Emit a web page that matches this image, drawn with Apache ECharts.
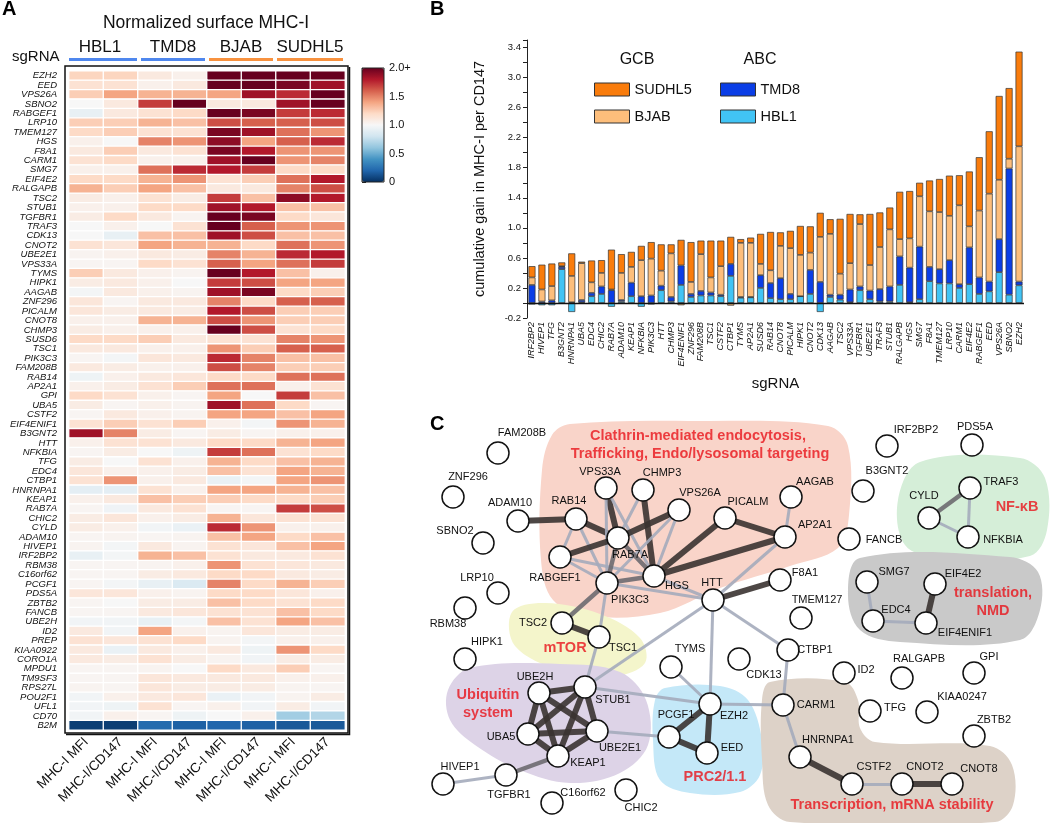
<!DOCTYPE html>
<html>
<head>
<meta charset="utf-8">
<script src="https://cdn.jsdelivr.net/npm/echarts@6/dist/echarts.min.js"></script>
<style>
  html, body { margin: 0; padding: 0; background: #fff; }
  #chart { width: 1050px; height: 823px; }
</style>
</head>
<body>
<div id="chart"></div>
<script>
  const FONT = '"Liberation Sans", Arial, sans-serif';

  // ---- panel A: normalized surface MHC-I heatmap ----
  const heatColumns = ['MHC-I MFI', 'MHC-I/CD147', 'MHC-I MFI', 'MHC-I/CD147',
    'MHC-I MFI', 'MHC-I/CD147', 'MHC-I MFI', 'MHC-I/CD147'];
  const heatGenes = ['EZH2', 'EED', 'VPS26A', 'SBNO2', 'RABGEF1', 'LRP10', 'TMEM127', 'HGS', 'F8A1',
    'CARM1', 'SMG7', 'EIF4E2', 'RALGAPB', 'TSC2', 'STUB1', 'TGFBR1', 'TRAF3', 'CDK13', 'CNOT2',
    'UBE2E1', 'VPS33A', 'TYMS', 'HIPK1', 'AAGAB', 'ZNF296', 'PICALM', 'CNOT8', 'CHMP3', 'SUSD6',
    'TSC1', 'PIK3C3', 'FAM208B', 'RAB14', 'AP2A1', 'GPI', 'UBA5', 'CSTF2', 'EIF4ENIF1', 'B3GNT2',
    'HTT', 'NFKBIA', 'TFG', 'EDC4', 'CTBP1', 'HNRNPA1', 'KEAP1', 'RAB7A', 'CHIC2', 'CYLD', 'ADAM10',
    'HIVEP1', 'IRF2BP2', 'RBM38', 'C16orf62', 'PCGF1', 'PDS5A', 'ZBTB2', 'FANCB', 'UBE2H', 'ID2',
    'PREP', 'KIAA0922', 'CORO1A', 'MPDU1', 'TM9SF3', 'RPS27L', 'POU2F1', 'UFL1', 'CD70', 'B2M'];
  // one row per gene: HBL1 MFI, HBL1 ratio, TMD8 MFI, TMD8 ratio, BJAB MFI, BJAB ratio, SUDHL5 MFI, SUDHL5 ratio
  const heatValues = [
    [1.22, 1.22, 1.10, 1.05, 2.0, 2.0, 2.0, 2.0],
    [1.15, 1.15, 1.05, 1.10, 2.0, 2.0, 1.95, 1.85],
    [1.25, 1.40, 1.35, 1.35, 1.40, 1.85, 1.75, 2.0],
    [1.00, 1.10, 1.70, 2.0, 1.10, 1.10, 1.85, 2.0],
    [0.92, 1.10, 1.15, 1.20, 2.0, 1.95, 1.70, 1.75],
    [1.25, 1.25, 1.35, 1.30, 1.65, 1.60, 1.60, 1.65],
    [1.20, 1.25, 1.15, 1.15, 1.95, 1.85, 1.55, 1.45],
    [1.05, 1.00, 1.50, 1.45, 1.90, 1.40, 1.60, 1.75],
    [1.10, 1.25, 1.10, 1.15, 1.95, 1.80, 1.45, 1.45],
    [1.15, 1.20, 1.05, 1.05, 1.85, 2.0, 1.45, 1.50],
    [1.05, 1.05, 1.55, 1.75, 1.80, 1.70, 1.20, 1.20],
    [1.20, 1.20, 1.35, 1.45, 1.15, 1.25, 1.55, 1.80],
    [1.35, 1.25, 1.40, 1.30, 1.10, 1.10, 1.50, 1.65],
    [1.08, 1.05, 1.15, 1.08, 1.70, 1.30, 1.90, 1.80],
    [1.05, 1.05, 1.20, 1.20, 1.85, 1.80, 1.30, 1.30],
    [1.08, 1.20, 1.10, 1.03, 2.0, 1.95, 1.20, 1.12],
    [1.00, 1.05, 1.00, 1.15, 2.0, 1.60, 1.45, 1.45],
    [1.00, 0.92, 1.30, 1.30, 1.85, 1.65, 1.30, 1.30],
    [1.15, 1.12, 1.40, 1.35, 1.35, 1.20, 1.55, 1.45],
    [1.03, 1.05, 1.10, 1.08, 1.50, 1.35, 1.75, 1.80],
    [1.02, 1.02, 1.20, 1.15, 1.60, 1.40, 1.55, 1.70],
    [1.25, 1.10, 1.05, 1.03, 2.0, 1.80, 1.30, 1.05],
    [1.08, 1.10, 1.05, 1.00, 1.70, 1.65, 1.40, 1.40],
    [0.98, 1.10, 1.05, 1.03, 1.85, 1.95, 1.20, 1.25],
    [1.12, 1.02, 1.10, 1.10, 1.50, 1.20, 1.60, 1.60],
    [1.12, 1.08, 1.10, 1.08, 1.80, 1.65, 1.25, 1.25],
    [1.05, 1.05, 1.35, 1.35, 1.65, 1.45, 1.25, 1.25],
    [1.08, 1.05, 1.05, 1.05, 2.0, 1.65, 1.15, 1.20],
    [1.20, 1.20, 1.25, 1.10, 1.15, 1.15, 1.50, 1.45],
    [1.10, 1.10, 1.05, 1.05, 1.45, 1.25, 1.60, 1.60],
    [1.02, 0.98, 1.12, 1.10, 1.75, 1.50, 1.30, 1.30],
    [1.10, 1.08, 1.05, 1.05, 1.65, 1.50, 1.25, 1.25],
    [0.95, 1.05, 1.10, 1.12, 1.20, 1.20, 1.55, 1.55],
    [1.05, 1.08, 1.15, 1.25, 1.55, 1.55, 1.05, 1.15],
    [1.20, 1.15, 1.05, 1.02, 1.40, 1.00, 1.70, 1.30],
    [1.08, 1.02, 1.05, 1.03, 1.85, 1.55, 1.20, 1.02],
    [1.02, 1.10, 1.05, 1.03, 1.40, 1.40, 1.30, 1.40],
    [1.15, 1.25, 1.15, 1.25, 1.05, 0.98, 1.45, 1.35],
    [1.85, 1.50, 1.08, 1.02, 1.08, 1.02, 1.05, 1.05],
    [1.05, 1.15, 1.15, 1.10, 1.20, 1.20, 1.35, 1.40],
    [1.02, 1.08, 1.00, 0.95, 1.70, 1.55, 1.15, 1.20],
    [1.08, 1.00, 1.15, 1.05, 1.35, 1.20, 1.30, 1.35],
    [1.12, 1.05, 1.05, 1.08, 1.30, 1.15, 1.40, 1.35],
    [1.15, 1.45, 1.05, 1.10, 0.93, 0.98, 1.40, 1.45],
    [0.90, 0.90, 1.15, 1.05, 1.40, 1.40, 1.35, 1.30],
    [1.05, 1.10, 1.30, 1.25, 1.25, 1.20, 1.20, 1.25],
    [1.02, 0.96, 1.10, 1.15, 1.02, 1.02, 1.70, 1.65],
    [1.08, 1.12, 1.05, 1.08, 1.35, 1.12, 1.15, 1.15],
    [1.08, 1.05, 0.97, 0.93, 1.75, 1.45, 1.05, 1.05],
    [1.02, 1.03, 1.02, 1.03, 1.30, 1.40, 1.20, 1.30],
    [1.03, 0.98, 1.10, 1.03, 1.15, 1.12, 1.30, 1.40],
    [0.92, 0.98, 1.35, 1.30, 1.15, 1.10, 1.10, 1.15],
    [1.02, 1.02, 1.03, 1.05, 1.45, 1.15, 1.12, 1.10],
    [1.02, 1.02, 1.08, 1.10, 1.20, 1.20, 1.10, 1.08],
    [1.02, 0.98, 0.92, 0.85, 1.50, 1.20, 1.35, 1.25],
    [1.12, 1.12, 1.05, 1.03, 1.20, 1.20, 1.12, 1.05],
    [1.02, 1.00, 1.08, 1.08, 1.30, 1.20, 1.15, 1.20],
    [1.02, 1.02, 1.10, 1.12, 1.15, 1.15, 1.30, 1.20],
    [0.97, 0.97, 0.92, 0.98, 1.30, 1.15, 1.40, 1.30],
    [1.10, 0.97, 1.40, 1.05, 1.03, 1.12, 1.08, 1.08],
    [1.15, 1.12, 1.15, 1.20, 1.03, 0.98, 1.05, 1.05],
    [1.10, 0.93, 1.10, 1.05, 1.10, 0.95, 1.45, 1.20],
    [1.10, 1.08, 1.15, 1.08, 1.03, 0.97, 1.08, 1.08],
    [1.02, 1.02, 1.03, 1.00, 1.20, 1.10, 1.25, 1.02],
    [1.02, 1.02, 1.12, 1.10, 1.10, 1.10, 1.05, 1.05],
    [1.03, 1.02, 1.12, 1.08, 1.08, 1.08, 1.03, 1.02],
    [0.97, 1.05, 1.10, 1.12, 0.93, 0.97, 1.03, 1.08],
    [0.97, 0.95, 1.15, 1.02, 1.05, 0.97, 1.08, 0.97],
    [0.97, 1.05, 1.02, 0.95, 1.00, 1.05, 0.65, 0.70],
    [0.05, 0.05, 0.22, 0.18, 0.20, 0.18, 0.15, 0.15]
  ];

  // ---- panel B: cumulative gain per cell line ----
  const barGenes = ['IRF2BP2', 'HIVEP1', 'TFG', 'B3GNT2', 'HNRNPA1', 'UBA5', 'EDC4', 'CHIC2', 'RAB7A',
    'ADAM10', 'KEAP1', 'NFKBIA', 'PIK3C3', 'HTT', 'CHMP3', 'EIF4ENIF1', 'ZNF296', 'FAM208B', 'TSC1',
    'CSTF2', 'CTBP1', 'TYMS', 'AP2A1', 'SUSD6', 'RAB14', 'CNOT8', 'PICALM', 'HIPK1', 'CNOT2', 'CDK13',
    'AAGAB', 'TSC2', 'VPS33A', 'TGFBR1', 'UBE2E1', 'TRAF3', 'STUB1', 'RALGAPB', 'HGS', 'SMG7', 'F8A1',
    'TMEM127', 'LRP10', 'CARM1', 'EIF4E2', 'RABGEF1', 'EED', 'VPS26A', 'SBNO2', 'EZH2'];
  const hbl1Gain = [-0.02, -0.03, -0.03, 0.45, -0.12, 0.01, 0.09, 0.12, -0.05, 0.02, 0.09, -0.05, -0.02,
    0.17, 0.02, 0.24, 0.08, 0.10, 0.10, 0.09, 0.36, 0.07, 0.075, 0.20, 0.065, 0.05, 0.05, 0.09, 0.12,
    -0.12, 0.08, 0.045, 0.01, 0.17, 0.05, 0.02, 0.02, 0.24, 0.01, 0.05, 0.29, 0.26, 0.26, 0.20, 0.25,
    0.12, 0.155, 0.41, 0.11, 0.235];
  const tmd8Gain = [0.24, 0.02, 0.035, 0.03, 0.01, 0.03, 0.045, 0.10, 0.17, 0.02, 0.18, 0.09, 0.10,
    0.06, 0.06, 0.26, 0.04, 0.06, 0.04, 0.02, 0.16, 0.01, 0.005, 0.17, 0.20, 0.28, 0.07, 0.0, 0.32,
    0.28, 0.03, 0.065, 0.17, 0.05, 0.115, 0.165, 0.20, 0.38, 0.46, 0.70, 0.19, 0.19, 0.31, 0.05, 0.49,
    0.22, 0.13, 0.44, 1.68, 0.05];
  const bjabGain = [0.10, 0.16, 0.19, 0.01, 0.35, 0.49, 0.14, 0.18, 0.01, 0.36, 0.21, 0.48, 0.49,
    0.20, 0.58, -0.03, 0.16, 0.49, 0.20, 0.38, -0.035, 0.72, 0.72, 0.15, 0.17, 0.43, 0.61, 0.55, 0.23,
    0.60, 0.81, 0.28, 0.35, 0.83, 0.34, 0.56, 0.76, 0.23, 0.39, 0.67, 0.74, 0.76, 0.59, 1.05, 0.28,
    0.89, 1.17, 0.79, 0.13, 1.80];
  const sudhl5Gain = [0.15, 0.33, 0.30, 0.05, 0.30, 0.02, 0.29, 0.17, 0.53, 0.25, 0.20, 0.19, 0.22,
    0.35, 0.12, 0.34, 0.53, 0.18, 0.49, 0.34, 0.36, 0.05, 0.07, 0.40, 0.51, 0.18, 0.23, 0.385, 0.35,
    0.32, 0.195, 0.73, 0.655, 0.13, 0.68, 0.46, 0.29, 0.63, 0.63, 0.18, 0.41, 0.44, 0.535, 0.40, 0.73,
    0.71, 0.83, 1.115, 0.94, 1.26];

  // ---- panel C: interaction network (layout units) ----
  const netNodes = [
    ['FAM208B', 498, 453], ['ZNF296', 453, 497], ['ADAM10', 518, 521], ['SBNO2', 483, 543],
    ['LRP10', 498, 593], ['RBM38', 465, 608], ['HIPK1', 465, 659],
    ['RAB14', 576, 519], ['VPS33A', 606, 488], ['CHMP3', 643, 490], ['VPS26A', 679, 510],
    ['PICALM', 725, 518], ['AAGAB', 791, 497], ['AP2A1', 785, 537], ['RAB7A', 618, 538],
    ['RABGEF1', 560, 557], ['HGS', 654, 576], ['PIK3C3', 607, 583], ['HTT', 713, 600],
    ['F8A1', 780, 580], ['TMEM127', 801, 618], ['CTBP1', 788, 650], ['CDK13', 739, 659],
    ['TSC2', 562, 623], ['TSC1', 599, 637], ['TYMS', 671, 667],
    ['UBE2H', 539, 693], ['STUB1', 585, 687], ['UBA5', 528, 734], ['UBE2E1', 597, 731],
    ['KEAP1', 558, 756], ['HIVEP1', 443, 784], ['TGFBR1', 506, 775], ['C16orf62', 552, 803],
    ['CHIC2', 626, 790], ['PCGF1', 669, 737], ['EZH2', 710, 704], ['EED', 707, 753],
    ['IRF2BP2', 887, 446], ['PDS5A', 972, 445], ['B3GNT2', 863, 491], ['FANCB', 849, 539],
    ['CYLD', 929, 518], ['TRAF3', 970, 488], ['NFKBIA', 968, 537],
    ['SMG7', 867, 582], ['EIF4E2', 935, 584], ['EDC4', 873, 621], ['EIF4ENIF1', 926, 623],
    ['ID2', 844, 673], ['RALGAPB', 902, 678], ['GPI', 974, 673], ['TFG', 870, 711],
    ['KIAA0247', 927, 712], ['ZBTB2', 974, 736], ['CARM1', 783, 705], ['HNRNPA1', 800, 757],
    ['CSTF2', 852, 784], ['CNOT2', 902, 784], ['CNOT8', 952, 784]
  ];
  // [source, target, confidence 1..3]
  const netLinks = [
    ['ADAM10', 'RAB14', 3], ['RAB14', 'RAB7A', 3], ['RAB14', 'RABGEF1', 1], ['RAB14', 'PIK3C3', 1],
    ['VPS33A', 'RAB7A', 3], ['VPS33A', 'HGS', 1], ['VPS33A', 'PIK3C3', 1],
    ['CHMP3', 'HGS', 3], ['CHMP3', 'RAB7A', 1],
    ['VPS26A', 'RAB7A', 3], ['VPS26A', 'HGS', 1], ['VPS26A', 'PIK3C3', 1],
    ['RABGEF1', 'RAB7A', 3], ['RABGEF1', 'PIK3C3', 1], ['RABGEF1', 'HGS', 1],
    ['RAB7A', 'PIK3C3', 2], ['RAB7A', 'HGS', 2], ['PIK3C3', 'HGS', 2],
    ['HGS', 'PICALM', 3], ['HGS', 'AP2A1', 3], ['PICALM', 'AP2A1', 3], ['AAGAB', 'AP2A1', 1],
    ['AP2A1', 'HTT', 1], ['HGS', 'HTT', 1], ['PIK3C3', 'HTT', 1],
    ['PIK3C3', 'TSC2', 2], ['PIK3C3', 'TSC1', 1], ['TSC2', 'TSC1', 3], ['TSC1', 'STUB1', 1],
    ['HTT', 'STUB1', 1], ['HTT', 'F8A1', 3], ['HTT', 'CTBP1', 1], ['HTT', 'EZH2', 1],
    ['UBE2H', 'STUB1', 3], ['UBE2H', 'UBA5', 3], ['UBE2H', 'KEAP1', 3], ['UBE2H', 'UBE2E1', 3],
    ['STUB1', 'UBA5', 3], ['STUB1', 'KEAP1', 3], ['STUB1', 'UBE2E1', 3], ['UBA5', 'UBE2E1', 3],
    ['UBA5', 'KEAP1', 3], ['UBE2E1', 'KEAP1', 3],
    ['STUB1', 'EZH2', 1], ['UBE2E1', 'PCGF1', 1], ['KEAP1', 'TGFBR1', 2], ['TGFBR1', 'HIVEP1', 1],
    ['TYMS', 'EZH2', 1], ['PCGF1', 'EZH2', 3], ['PCGF1', 'EED', 3], ['EZH2', 'EED', 3],
    ['EZH2', 'CARM1', 1], ['CTBP1', 'CARM1', 1], ['CARM1', 'HNRNPA1', 1], ['HNRNPA1', 'CSTF2', 3],
    ['CSTF2', 'CNOT2', 1], ['CNOT2', 'CNOT8', 3],
    ['SMG7', 'EDC4', 1], ['EDC4', 'EIF4ENIF1', 1], ['EIF4E2', 'EIF4ENIF1', 3],
    ['CYLD', 'TRAF3', 2], ['TRAF3', 'NFKBIA', 1], ['CYLD', 'NFKBIA', 1]
  ];
  const clusterLabels = [
    ['Clathrin-mediated endocytosis,', 698, 436], ['Trafficking, Endo/lysosomal targeting', 700, 454],
    ['NF-κB', 1017, 507], ['translation,', 993, 593], ['NMD', 993, 611], ['mTOR', 565, 648],
    ['Ubiquitin', 488, 695], ['system', 488, 713], ['PRC2/1.1', 715, 777],
    ['Transcription, mRNA stability', 892, 805]
  ];
  const clusterOutlines = {
    clathrin: [[570, 424], [700, 421], [828, 426], [848, 446], [849, 515], [838, 548], [790, 566],
      [720, 588], [660, 613], [590, 616], [553, 600], [541, 560], [542, 470], [552, 435]],
    nfkb: [[920, 462], [1020, 458], [1045, 478], [1047, 530], [1030, 556], [940, 558], [905, 545], [898, 500]],
    mtor: [[512, 612], [545, 603], [600, 614], [640, 638], [645, 663], [615, 676], [560, 670], [515, 646]],
    ubiquitin: [[470, 668], [560, 664], [620, 672], [646, 700], [648, 745], [620, 773], [570, 783],
      [520, 770], [475, 745], [450, 720], [448, 690]],
    prc2: [[665, 688], [720, 686], [748, 700], [762, 740], [760, 775], [740, 792], [690, 793],
      [660, 780], [653, 740], [655, 700]],
    translation: [[860, 558], [1010, 557], [1038, 572], [1040, 610], [1020, 640], [900, 642], [860, 630], [848, 595]],
    transcription: [[770, 682], [845, 682], [858, 700], [860, 728], [875, 742], [990, 746], [1012, 765],
      [1013, 805], [995, 822], [790, 822], [768, 805], [762, 760], [762, 700]]
  };

  // styles
  const blobColors = {
    clathrin: '#f9d4c9', nfkb: '#d5eed8', mtor: '#f4f5cb', ubiquitin: '#ddd3e7',
    prc2: '#c4e8f8', translation: '#c9c9c9', transcription: '#ddd2c8'
  };
  const linkStyles = {
    1: { width: 3, color: '#a4abbb' },
    2: { width: 4.5, color: '#6d6a70' },
    3: { width: 6, color: '#3a3331' }
  };
  const labelOffset = {
    FAM208B: [24, -20], ZNF296: [15, -20], ADAM10: [-8, -18], SBNO2: [-28, -12], LRP10: [-21, -15],
    RBM38: [-17, 16], HIPK1: [22, -17], RAB14: [-7, -18], VPS33A: [-6, -16], CHMP3: [19, -17],
    VPS26A: [21, -17], PICALM: [23, -16], AAGAB: [24, -15], AP2A1: [30, -12], RAB7A: [12, 17],
    RABGEF1: [-5, 21], HGS: [23, 10], PIK3C3: [23, 17], HTT: [-1, -17], F8A1: [25, -7],
    TMEM127: [16, -18], CTBP1: [27, 0], CDK13: [25, 16], TSC2: [-29, 0], TSC1: [24, 11],
    TYMS: [19, -18], UBE2H: [-4, -16], STUB1: [28, 13], UBA5: [-27, 3], UBE2E1: [23, 17],
    KEAP1: [30, 7], HIVEP1: [17, -17], TGFBR1: [3, 20], C16orf62: [31, -10], CHIC2: [15, 18],
    PCGF1: [7, -22], EZH2: [24, 12], EED: [25, -5], IRF2BP2: [29, -16], PDS5A: [3, -18],
    B3GNT2: [24, -20], FANCB: [35, 1], CYLD: [-5, -22], TRAF3: [31, -6], NFKBIA: [35, 3],
    SMG7: [27, -10], EIF4E2: [28, -10], EDC4: [23, -11], EIF4ENIF1: [39, 10], ID2: [22, -3],
    RALGAPB: [17, -19], GPI: [15, -16], TFG: [25, -3], KIAA0247: [35, -15], ZBTB2: [20, -16],
    CARM1: [33, 0], HNRNPA1: [28, -17], CSTF2: [22, -17], CNOT2: [23, -17], CNOT8: [27, -15]
  };

  const heatData = [];
  heatValues.forEach((row, r) => row.forEach((v, c) => heatData.push([c, r, v])));

  const chart = echarts.init(document.getElementById('chart'));

  const option = {
    animation: false,
    backgroundColor: '#fff',
    textStyle: { fontFamily: FONT, color: '#111' },
    grid: [
      { left: 69, top: 71, width: 276, height: 659 },
      { left: 362, top: 68, width: 22, height: 114, show: true, borderColor: '#222', borderWidth: 1,
        backgroundColor: 'transparent', z: 10 },
      { left: 527, top: 40, width: 497, height: 278 },
      { left: 380, top: 340, width: 670, height: 483 }
    ],
    xAxis: [
      { type: 'category', gridIndex: 0, data: heatColumns, axisLine: { show: false }, axisTick: { show: false },
        axisLabel: { rotate: 45, interval: 0, fontSize: 13.5, color: '#111', margin: 10 } },
      { type: 'value', gridIndex: 1, show: false, min: 0, max: 1 },
      { type: 'category', gridIndex: 2, data: barGenes, axisLine: { show: false }, axisTick: { show: false },
        axisLabel: { rotate: 90, interval: 0, fontSize: 9, fontStyle: 'italic', color: '#111', margin: 4 },
        name: 'sgRNA', nameLocation: 'middle', nameGap: 58, nameTextStyle: { fontSize: 15, color: '#111' } },
      { type: 'value', gridIndex: 3, show: false, min: 380, max: 1050 }
    ],
    yAxis: [
      { type: 'category', gridIndex: 0, data: heatGenes, inverse: true, axisLine: { show: false },
        axisTick: { show: false },
        axisLabel: { interval: 0, fontSize: 9.5, fontStyle: 'italic', color: '#111', margin: 12 } },
      { type: 'value', gridIndex: 1, position: 'right', min: 0, max: 2, interval: 0.5,
        axisLine: { show: false }, splitLine: { show: false },
        axisTick: { show: true, length: 4, lineStyle: { color: '#222' } },
        axisLabel: { fontSize: 11, color: '#111', margin: 5,
          formatter: v => (v === 2 ? '2.0+' : v === 0 ? '0' : v.toFixed(1)) } },
      { type: 'value', gridIndex: 2, min: -0.2, max: 3.5, interval: 0.2,
        axisLine: { show: true, lineStyle: { color: '#222' } },
        axisTick: { show: true, length: 4, lineStyle: { color: '#222' } },
        splitLine: { show: false },
        axisLabel: { fontSize: 9.5, color: '#111', margin: 6,
          formatter: v => ((Math.round(v * 10) + 2) % 4 === 0 ? v.toFixed(1) : '') },
        name: 'cumulative gain in MHC-I per CD147', nameLocation: 'middle', nameGap: 40,
        nameTextStyle: { fontSize: 14.5, color: '#111' } },
      { type: 'value', gridIndex: 3, show: false, min: 340, max: 823, inverse: true }
    ],
    visualMap: {
      type: 'continuous', seriesIndex: 0, min: 0, max: 2, left: 362, top: 68,
      itemWidth: 22, itemHeight: 114, padding: 0, calculable: false, hoverLink: false,
      inRange: { color: ['#053061', '#2166ac', '#4393c3', '#92c5de', '#d1e5f0', '#f7f7f7',
        '#fddbc7', '#f4a582', '#d6604d', '#b2182b', '#67001f'] }
    },
    legend: [
      { data: ['SUDHL5', 'BJAB'], left: 594, top: 82, orient: 'vertical', itemWidth: 35, itemHeight: 13,
        itemGap: 12, padding: 0, selectedMode: false, icon: 'rect',
        itemStyle: { borderColor: '#333', borderWidth: 1 },
        textStyle: { fontSize: 14.5, color: '#111' } },
      { data: ['TMD8', 'HBL1'], left: 720, top: 82, orient: 'vertical', itemWidth: 35, itemHeight: 13,
        itemGap: 12, padding: 0, selectedMode: false, icon: 'rect',
        itemStyle: { borderColor: '#333', borderWidth: 1 },
        textStyle: { fontSize: 14.5, color: '#111' } }
    ],
    graphic: [
      { type: 'text', x: 2, y: 9, style: { text: 'A', font: 'bold 20px ' + FONT, fill: '#000', textVerticalAlign: 'middle' } },
      { type: 'text', x: 430, y: 9, style: { text: 'B', font: 'bold 20px ' + FONT, fill: '#000', textVerticalAlign: 'middle' } },
      { type: 'text', x: 430, y: 424, style: { text: 'C', font: 'bold 20px ' + FONT, fill: '#000', textVerticalAlign: 'middle' } },
      { type: 'text', x: 206, y: 23, style: { text: 'Normalized surface MHC-I', font: '17.5px ' + FONT, fill: '#111', textAlign: 'center', textVerticalAlign: 'middle' } },
      { type: 'text', x: 100, y: 47, style: { text: 'HBL1', font: '17px ' + FONT, fill: '#111', textAlign: 'center', textVerticalAlign: 'middle' } },
      { type: 'text', x: 173, y: 47, style: { text: 'TMD8', font: '17px ' + FONT, fill: '#111', textAlign: 'center', textVerticalAlign: 'middle' } },
      { type: 'text', x: 241, y: 47, style: { text: 'BJAB', font: '17px ' + FONT, fill: '#111', textAlign: 'center', textVerticalAlign: 'middle' } },
      { type: 'text', x: 310, y: 47, style: { text: 'SUDHL5', font: '17px ' + FONT, fill: '#111', textAlign: 'center', textVerticalAlign: 'middle' } },
      { type: 'text', x: 12, y: 57, style: { text: 'sgRNA', font: '15px ' + FONT, fill: '#111', textVerticalAlign: 'middle' } },
      { type: 'rect', shape: { x: 69, y: 58, width: 68, height: 3 }, style: { fill: '#4f87ee' } },
      { type: 'rect', shape: { x: 141, y: 58, width: 64, height: 3 }, style: { fill: '#4f87ee' } },
      { type: 'rect', shape: { x: 209, y: 58, width: 64, height: 3 }, style: { fill: '#f8923f' } },
      { type: 'rect', shape: { x: 277, y: 58, width: 66, height: 3 }, style: { fill: '#f8923f' } },
      // heatmap frame with a slightly heavier right/bottom edge
      { type: 'rect', z: 10, shape: { x: 65, y: 66, width: 283, height: 667 }, style: { fill: 'none', stroke: '#111', lineWidth: 1.5 } },
      { type: 'polyline', z: 10, shape: { points: [[349.5, 67], [349.5, 734.5], [66, 734.5]] }, style: { fill: 'none', stroke: '#111', lineWidth: 1.5 } },
      { type: 'text', x: 637, y: 60, style: { text: 'GCB', font: '16px ' + FONT, fill: '#111', textAlign: 'center', textVerticalAlign: 'middle' } },
      { type: 'text', x: 760, y: 60, style: { text: 'ABC', font: '16px ' + FONT, fill: '#111', textAlign: 'center', textVerticalAlign: 'middle' } }
    ],
    series: [
      {
        type: 'heatmap', xAxisIndex: 0, yAxisIndex: 0, data: heatData,
        itemStyle: { borderColor: '#fff', borderWidth: 1.3 },
        emphasis: { disabled: true }
      },
      { name: 'HBL1', type: 'bar', xAxisIndex: 2, yAxisIndex: 2, stack: 'gain', data: hbl1Gain,
        barWidth: 7, itemStyle: { color: '#41c4f5', borderColor: '#333', borderWidth: 0.7 } },
      { name: 'TMD8', type: 'bar', xAxisIndex: 2, yAxisIndex: 2, stack: 'gain', data: tmd8Gain,
        barWidth: 7, itemStyle: { color: '#0b3ee6', borderColor: '#333', borderWidth: 0.7 } },
      { name: 'BJAB', type: 'bar', xAxisIndex: 2, yAxisIndex: 2, stack: 'gain', data: bjabGain,
        barWidth: 7, itemStyle: { color: '#fdbe7b', borderColor: '#333', borderWidth: 0.7 } },
      { name: 'SUDHL5', type: 'bar', xAxisIndex: 2, yAxisIndex: 2, stack: 'gain', data: sudhl5Gain,
        barWidth: 7, itemStyle: { color: '#f97c0c', borderColor: '#333', borderWidth: 0.7 },
        markLine: { silent: true, symbol: ['none', 'none'], label: { show: false },
          lineStyle: { color: '#111', width: 1.3, type: 'solid' }, data: [{ yAxis: 0 }] } },
      {
        type: 'custom', coordinateSystem: 'cartesian2d', xAxisIndex: 3, yAxisIndex: 3,
        silent: true, z: 1, clip: false,
        data: Object.keys(clusterOutlines).map(k => clusterOutlines[k][0]),
        renderItem: (params, api) => {
          const key = Object.keys(clusterOutlines)[params.dataIndex];
          return {
            type: 'polygon',
            shape: { points: clusterOutlines[key].map(p => api.coord(p)), smooth: 0.35 },
            style: { fill: blobColors[key] }
          };
        }
      },
      {
        type: 'graph', coordinateSystem: 'cartesian2d', xAxisIndex: 3, yAxisIndex: 3,
        layout: 'none', z: 3, symbol: 'circle', symbolSize: 22, silent: true,
        itemStyle: { color: '#fff', borderColor: '#111', borderWidth: 1.5 },
        label: { show: true, position: 'inside', formatter: '{b}', fontSize: 11, color: '#111',
          align: 'center', verticalAlign: 'middle' },
        data: netNodes.map(([name, x, y]) => ({ name, value: [x, y], label: { offset: labelOffset[name] || [0, -18] } })),
        links: netLinks.map(([s, t, w]) => ({ source: s, target: t,
          lineStyle: { width: linkStyles[w].width, color: linkStyles[w].color, opacity: 0.9 } })),
        emphasis: { disabled: true }
      },
      {
        type: 'scatter', xAxisIndex: 3, yAxisIndex: 3, z: 5, silent: true,
        symbolSize: 0, itemStyle: { color: 'transparent' },
        data: clusterLabels.map(([t, x, y]) => ({ name: t, value: [x, y] })),
        label: { show: true, position: 'inside', formatter: '{b}', color: '#e8141c',
          fontWeight: 'bold', fontSize: 14.5 }
      }
    ]
  };

  chart.setOption(option);
  window.addEventListener('resize', chart.resize);
</script>
</body>
</html>
